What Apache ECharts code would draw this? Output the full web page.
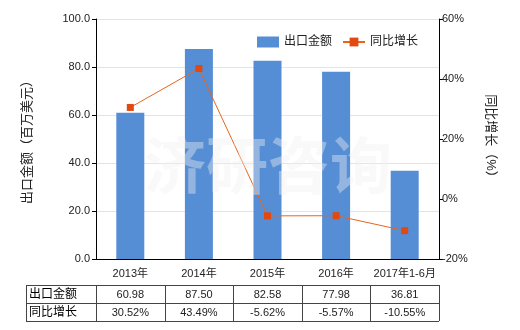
<!DOCTYPE html>
<html style="height: 100%">
<head>
    <meta charset="utf-8">
</head>
<body style="height: 100%; margin: 0; background: #fff">
<div id="container" style="width: 520px; height: 330px"></div>

<script type="text/javascript" src="https://cdn.jsdelivr.net/npm/echarts@6/dist/echarts.min.js"></script>

<script type="text/javascript">
    var categories = ['2013年', '2014年', '2015年', '2016年', '2017年1-6月'];
    var exportValues = [60.98, 87.50, 82.58, 77.98, 36.81];
    var growthValues = [30.52, 43.49, -5.62, -5.57, -10.55];
    var rowNames = ['出口金额', '同比增长'];

    var FONT = "'Liberation Sans', 'Noto Sans CJK SC', sans-serif";
    var gridLeft = 96, gridRight = 439, gridTop = 19, gridBottom = 259;
    var colW = (gridRight - gridLeft) / categories.length;

    // table under the chart
    var tableTop = 285, rowH = 18, tableLeft = 26;
    var graphics = [];
    var lineStyle = {stroke: '#444', lineWidth: 1};
    for (var r = 0; r <= rowNames.length; r++) {
        var y = tableTop + r * rowH + 0.5;
        graphics.push({type: 'line', shape: {x1: tableLeft, y1: y, x2: gridRight, y2: y}, style: lineStyle});
    }
    var xs = [tableLeft];
    for (var c = 0; c <= categories.length; c++) xs.push(gridLeft + c * colW);
    xs.forEach(function (x) {
        x = Math.round(x) + 0.5;
        graphics.push({type: 'line', shape: {x1: x, y1: tableTop, x2: x, y2: tableTop + rowH * rowNames.length}, style: lineStyle});
    });
    var tableRows = [
        exportValues.map(function (v) { return v.toFixed(2); }),
        growthValues.map(function (v) { return v.toFixed(2) + '%'; })
    ];
    rowNames.forEach(function (name, r) {
        var cy = tableTop + r * rowH + rowH / 2 + 1;
        graphics.push({type: 'text', x: tableLeft + 3, y: cy,
            style: {text: name, fill: '#000', font: '12px ' + FONT, verticalAlign: 'middle'}});
        tableRows[r].forEach(function (t, c) {
            graphics.push({type: 'text', x: gridLeft + (c + 0.5) * colW, y: cy,
                style: {text: t, fill: '#222', font: '11px ' + FONT, align: 'center', verticalAlign: 'middle'}});
        });
    });

    // watermark
    graphics.push({type: 'text', x: 268, y: 165, z: 100,
        style: {text: '济研咨询', fill: 'rgba(240,240,240,0.4)', font: 'bold 62px "Noto Sans CJK SC"',
            align: 'center', verticalAlign: 'middle'}});

    var myChart = echarts.init(document.getElementById('container'));
    var option = {
        backgroundColor: '#fff',
        textStyle: {fontFamily: FONT},
        animation: false,
        grid: {left: gridLeft, right: 520 - gridRight, top: gridTop, bottom: 330 - gridBottom},
        legend: {
            left: 252, top: 31, itemWidth: 22, itemHeight: 11, itemGap: 10,
            textStyle: {fontSize: 12, color: '#222', fontFamily: FONT},
            data: [
                {name: '出口金额', icon: 'rect'},
                {name: '同比增长'}
            ]
        },
        xAxis: {
            type: 'category',
            data: categories,
            axisLine: {lineStyle: {color: '#000'}},
            axisTick: {alignWithLabel: true, length: 3, lineStyle: {color: '#000'}},
            axisLabel: {color: '#222', fontSize: 11, margin: 9, interval: 0}
        },
        yAxis: [{
            type: 'value', min: 0, max: 100, interval: 20,
            name: '出口金额（百万美元）', nameLocation: 'middle', nameGap: 62,
            nameTextStyle: {color: '#222', fontSize: 13},
            axisLine: {show: true, lineStyle: {color: '#000'}},
            axisTick: {show: true, length: 4, lineStyle: {color: '#000'}},
            axisLabel: {color: '#222', fontSize: 11, margin: 6, formatter: function (v) { return v.toFixed(1); }},
            splitLine: {lineStyle: {color: '#e4e4e4'}}
        }, {
            type: 'value', min: -20, max: 60, interval: 20,
            name: '同比增长（%）', nameLocation: 'middle', nameGap: 45, nameRotate: -90,
            nameTextStyle: {color: '#222', fontSize: 13},
            axisLine: {show: true, lineStyle: {color: '#000'}},
            axisTick: {show: true, length: 4, lineStyle: {color: '#000'}},
            axisLabel: {color: '#222', fontSize: 11, margin: 3, formatter: '{value}%'},
            splitLine: {show: false}
        }],
        series: [{
            name: '出口金额', type: 'bar', data: exportValues, barWidth: 28,
            itemStyle: {color: '#558ed5'}
        }, {
            name: '同比增长', type: 'line', yAxisIndex: 1, data: growthValues,
            symbol: 'rect', symbolSize: 7,
            itemStyle: {color: '#e2480f'},
            lineStyle: {color: '#e8651c', width: 1}
        }],
        graphic: graphics
    };
    myChart.setOption(option);
</script>
</body>
</html>
